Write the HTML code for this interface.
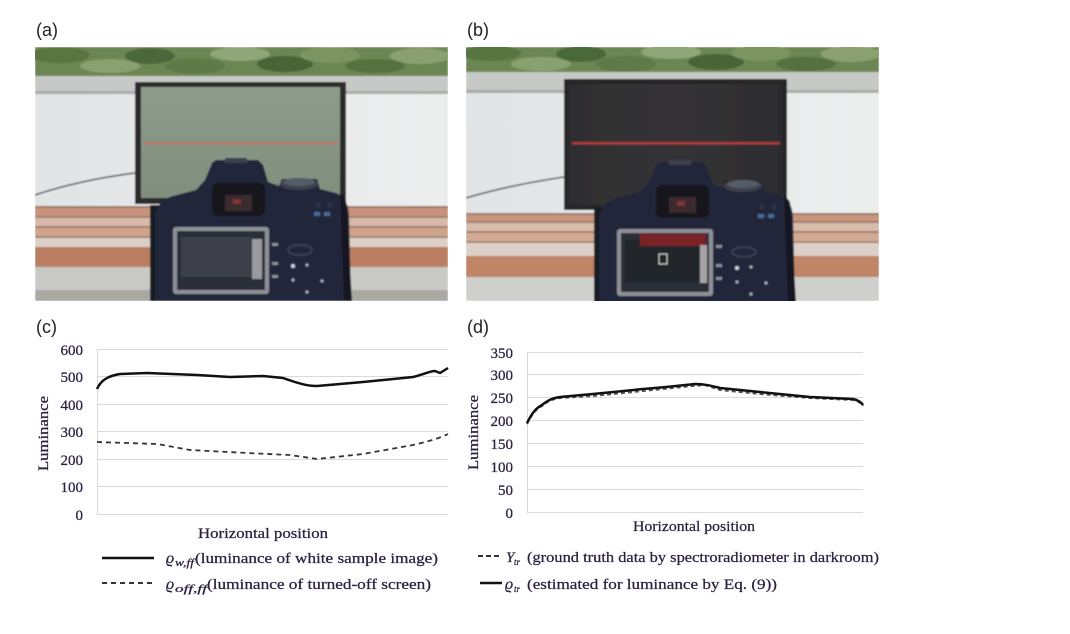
<!DOCTYPE html>
<html><head><meta charset="utf-8"><style>
html,body{margin:0;padding:0;background:#fff;}
svg{display:block;}
text{font-family:"Liberation Serif",serif;fill:#2b2040;stroke:#2b2040;stroke-width:0.25;}
.lab{font-family:"Liberation Sans",sans-serif;fill:#222;stroke:none;font-size:18px;}
</style></head><body>
<svg width="1070" height="634" viewBox="0 0 1070 634" xmlns="http://www.w3.org/2000/svg">
<defs>
<clipPath id="ca"><rect x="35" y="47" width="413" height="254"/></clipPath>
<clipPath id="cb"><rect x="466" y="47" width="413" height="254"/></clipPath>
<filter id="soft" x="0" y="0" width="1" height="1"><feGaussianBlur stdDeviation="0.7"/></filter>
<linearGradient id="wall" x1="0" x2="1" y1="0" y2="0"><stop offset="0" stop-color="#e1e4e5"/><stop offset="1" stop-color="#eceeee"/></linearGradient>
<linearGradient id="scrA" x1="0" x2="0" y1="0" y2="1"><stop offset="0" stop-color="#8d9b8b"/><stop offset="1" stop-color="#7f8e7d"/></linearGradient>
<linearGradient id="scrB" x1="0" x2="1" y1="0" y2="0"><stop offset="0" stop-color="#2e2e31"/><stop offset="0.5" stop-color="#353336"/><stop offset="1" stop-color="#2c2c2f"/></linearGradient>
<g id="cam">
  <rect x="150" y="205" width="14" height="96" fill="#171a24"/>
  <path d="M155,301 L155,215 Q158,200 173,196 L196,190 L205,180 L212,163 L216,160 L258,160 L263,165 L268,182 L279,186 L282,179 L317,179 L320,189 L336,193 Q348,198 349,215 L351,301 Z" fill="#20263a"/>
  <path d="M340,192 L346,200 L352,301 L344,301 Z" fill="#151821"/>
  <rect x="225" y="158" width="22" height="5" fill="#3a3f4d"/>
  <rect x="212" y="183" width="53" height="33" rx="6" fill="#15171d"/>
  <rect x="225" y="195" width="27" height="16" fill="#3b2b2e"/>
  <rect x="233" y="199" width="8" height="5" fill="#7a3535"/>
  <ellipse cx="299" cy="184" rx="19" ry="6" fill="#3d424e"/>
  <ellipse cx="299" cy="182" rx="16" ry="4" fill="#565b66"/>
  <rect x="314" y="212" width="6" height="4" fill="#4a6a9a"/>
  <rect x="324" y="212" width="6" height="4" fill="#4a6a9a"/>
  <circle cx="318" cy="205" r="3" fill="#2d3344"/>
  <circle cx="330" cy="205" r="3" fill="#2d3344"/>
  <circle cx="293" cy="266" r="2" fill="#cfd2d8"/>
  <circle cx="307" cy="265" r="1.5" fill="#aeb2ba"/>
  <circle cx="293" cy="280" r="1.5" fill="#aeb2ba"/>
  <circle cx="307" cy="292" r="1.5" fill="#aeb2ba"/>
  <circle cx="322" cy="281" r="1.5" fill="#aeb2ba"/>
  <rect x="272" y="243" width="6" height="3" fill="#8a8d95"/>
  <rect x="272" y="262" width="6" height="3" fill="#8a8d95"/>
  <rect x="272" y="275" width="6" height="3" fill="#8a8d95"/>
  <ellipse cx="300" cy="250" rx="12" ry="5" fill="none" stroke="#3a4050" stroke-width="2"/>
  <rect x="173" y="227" width="96" height="67" rx="3" fill="#8f9098"/>
  <rect x="177" y="231" width="88" height="59" fill="#2c2f37"/>
</g>
<g id="trees">
  <ellipse cx="60" cy="55" rx="30" ry="8" fill="#587540"/>
  <ellipse cx="110" cy="66" rx="30" ry="7" fill="#8aa070"/>
  <ellipse cx="150" cy="56" rx="25" ry="8" fill="#4c683a"/>
  <ellipse cx="195" cy="66" rx="30" ry="8" fill="#5f7a48"/>
  <ellipse cx="240" cy="54" rx="30" ry="7" fill="#8fa678"/>
  <ellipse cx="285" cy="64" rx="28" ry="8" fill="#4a6538"/>
  <ellipse cx="330" cy="55" rx="30" ry="8" fill="#7b9460"/>
  <ellipse cx="375" cy="66" rx="30" ry="7" fill="#55713f"/>
  <ellipse cx="420" cy="56" rx="30" ry="8" fill="#8aa070"/>
</g>
</defs>

<!-- Photo (a) -->
<g clip-path="url(#ca)" filter="url(#soft)">
  <rect x="35" y="47" width="413" height="254" fill="url(#wall)"/>
  <rect x="35" y="47" width="413" height="30" fill="#6c8652"/>
  <use href="#trees"/>
  <rect x="35" y="76" width="413" height="17" fill="#c7c9c6"/>
  <rect x="35" y="91" width="413" height="3" fill="#a9aba8"/>
  <rect x="35" y="206" width="413" height="2" fill="#9a7a68"/>
  <rect x="35" y="208" width="413" height="8" fill="#c8937a"/>
  <rect x="35" y="216" width="413" height="2" fill="#a08070"/>
  <rect x="35" y="218" width="413" height="8" fill="#d8b8a8"/>
  <rect x="35" y="226" width="413" height="2" fill="#a08070"/>
  <rect x="35" y="228" width="413" height="8" fill="#cfa38c"/>
  <rect x="35" y="236" width="413" height="2" fill="#a08878"/>
  <rect x="35" y="238" width="413" height="9" fill="#dccfc8"/>
  <rect x="35" y="247" width="413" height="20" fill="#bb7e62"/>
  <rect x="35" y="267" width="413" height="34" fill="#c9c9c6"/>
  <rect x="35" y="290" width="413" height="11" fill="#aaa8a3"/>
  <rect x="135" y="82" width="211" height="122" fill="#2a2a2b"/>
  <rect x="141" y="87" width="199" height="111" fill="url(#scrA)"/>
  <rect x="143" y="142" width="195" height="2.5" fill="#b47a68"/>
  <path d="M35,195 Q80,180 135,173" fill="none" stroke="#55585c" stroke-width="1.6"/>
  <use href="#cam"/>
  <rect x="181" y="237" width="70" height="40" fill="#3d4149"/>
  <rect x="252" y="239" width="10" height="40" fill="#9a9aa1"/>
</g>

<!-- Photo (b) -->
<g clip-path="url(#cb)" filter="url(#soft)">
  <rect x="466" y="47" width="413" height="254" fill="url(#wall)"/>
  <rect x="466" y="47" width="413" height="26" fill="#6c8652"/>
  <use href="#trees" transform="translate(431,-2)"/>
  <rect x="466" y="72" width="413" height="20" fill="#c7c9c6"/>
  <rect x="466" y="90" width="413" height="3" fill="#a9aba8"/>
  <rect x="466" y="213" width="413" height="2" fill="#9a7a68"/>
  <rect x="466" y="215" width="413" height="6" fill="#c8957c"/>
  <rect x="466" y="221" width="413" height="2" fill="#a08070"/>
  <rect x="466" y="223" width="413" height="8" fill="#d8bcaa"/>
  <rect x="466" y="231" width="413" height="2" fill="#a08070"/>
  <rect x="466" y="233" width="413" height="8" fill="#d3ab94"/>
  <rect x="466" y="241" width="413" height="2" fill="#a08878"/>
  <rect x="466" y="243" width="413" height="13" fill="#ddd0c8"/>
  <rect x="466" y="256" width="413" height="21" fill="#c08466"/>
  <rect x="466" y="277" width="413" height="24" fill="#cfcfcc"/>
  <rect x="564" y="79" width="223" height="131" fill="#262628"/>
  <rect x="569" y="84" width="213" height="121" fill="url(#scrB)"/>
  <rect x="572" y="142" width="208" height="2.5" fill="#a83a3a"/>
  <path d="M466,198 Q510,185 564,177" fill="none" stroke="#55585c" stroke-width="1.6"/>
  <use href="#cam" transform="translate(444,2)"/>
  <rect x="625" y="240" width="75" height="42" fill="#23252b"/>
  <rect x="640" y="234" width="66" height="12" fill="#7a2226"/>
  <rect x="659" y="254" width="8" height="10" fill="none" stroke="#ccc" stroke-width="1"/>
  <rect x="700" y="245" width="7" height="38" fill="#a8a3a6"/>
</g>

<!-- Panel labels -->
<text class="lab" x="36" y="36">(a)</text>
<text class="lab" x="467" y="36">(b)</text>
<text class="lab" x="36" y="333">(c)</text>
<text class="lab" x="467" y="333">(d)</text>

<!-- Chart (c) -->
<g stroke="#d9d9d9" stroke-width="1">
  <line x1="97" y1="349.5" x2="448" y2="349.5"/>
  <line x1="97" y1="376.5" x2="448" y2="376.5"/>
  <line x1="97" y1="404.5" x2="448" y2="404.5"/>
  <line x1="97" y1="431.5" x2="448" y2="431.5"/>
  <line x1="97" y1="459.5" x2="448" y2="459.5"/>
  <line x1="97" y1="486.5" x2="448" y2="486.5"/>
  <line x1="97" y1="514.5" x2="448" y2="514.5"/>
  <line x1="97.5" y1="349" x2="97.5" y2="515"/>
</g>
<g font-size="15" text-anchor="end">
  <text x="83" y="355">600</text>
  <text x="83" y="382">500</text>
  <text x="83" y="410">400</text>
  <text x="83" y="437">300</text>
  <text x="83" y="465">200</text>
  <text x="83" y="492">100</text>
  <text x="83" y="520">0</text>
</g>
<text font-size="15" transform="translate(48,471) rotate(-90)" textLength="75" lengthAdjust="spacingAndGlyphs">Luminance</text>
<text font-size="15" x="198" y="538" textLength="130" lengthAdjust="spacingAndGlyphs">Horizontal position</text>
<path d="M97,389 C101,380 108,376 120,374 L147,373 L197,375 L230,377 L263,376 L283,378 C295,382 305,386 317,386 L363,382 L413,377 C425,374 430,371 435,371 L440,373 L448,368" fill="none" stroke="#111" stroke-width="2.5"/>
<path d="M97,442 L157,444 L190,450 L247,453 L290,455 L317,459 L363,454 L413,445 C430,441 440,438 448,434" fill="none" stroke="#333" stroke-width="1.8" stroke-dasharray="5,4"/>
<line x1="102" y1="558" x2="154" y2="558" stroke="#111" stroke-width="2.5"/>
<line x1="102" y1="583" x2="154" y2="583" stroke="#333" stroke-width="2" stroke-dasharray="5,4"/>
<text font-size="16" x="166" y="563" font-style="italic">ϱ</text>
<text font-size="11" x="175" y="566" font-style="italic" textLength="19" lengthAdjust="spacingAndGlyphs">w,ff</text>
<text font-size="15" x="195" y="563" textLength="243" lengthAdjust="spacingAndGlyphs">(luminance of white sample image)</text>
<text font-size="16" x="166" y="589" font-style="italic">ϱ</text>
<text font-size="11" x="175" y="592" font-style="italic" textLength="32" lengthAdjust="spacingAndGlyphs">off,ff</text>
<text font-size="15" x="207" y="589" textLength="224" lengthAdjust="spacingAndGlyphs">(luminance of turned-off screen)</text>

<!-- Chart (d) -->
<g stroke="#d9d9d9" stroke-width="1">
  <line x1="527" y1="352.5" x2="863" y2="352.5"/>
  <line x1="527" y1="374.5" x2="863" y2="374.5"/>
  <line x1="527" y1="397.5" x2="863" y2="397.5"/>
  <line x1="527" y1="420.5" x2="863" y2="420.5"/>
  <line x1="527" y1="443.5" x2="863" y2="443.5"/>
  <line x1="527" y1="466.5" x2="863" y2="466.5"/>
  <line x1="527" y1="489.5" x2="863" y2="489.5"/>
  <line x1="527" y1="512.5" x2="863" y2="512.5"/>
  <line x1="527.5" y1="352" x2="527.5" y2="513"/>
</g>
<g font-size="15" text-anchor="end">
  <text x="513" y="358">350</text>
  <text x="513" y="380">300</text>
  <text x="513" y="403">250</text>
  <text x="513" y="426">200</text>
  <text x="513" y="449">150</text>
  <text x="513" y="472">100</text>
  <text x="513" y="495">50</text>
  <text x="513" y="518">0</text>
</g>
<text font-size="15" transform="translate(478,470) rotate(-90)" textLength="75" lengthAdjust="spacingAndGlyphs">Luminance</text>
<text font-size="15" x="633" y="531" textLength="122" lengthAdjust="spacingAndGlyphs">Horizontal position</text>
<path d="M527,423 C532,413 536,408 542,405 C548,400 553,398 560,397 L593,395 L643,390 L693,385 L705,384 L720,389 L760,393 L810,397 L853,399 C858,400 861,402 863,405" fill="none" stroke="#555" stroke-width="2" stroke-dasharray="4,3" transform="translate(0,1)"/>
<path d="M527,423 C532,413 536,408 542,405 C548,400 553,398 560,397 L593,394 L643,389 C670,387 685,385 695,384 C705,384 712,386 720,388 L760,392 L810,397 L853,399 C858,400 861,402 863,405" fill="none" stroke="#111" stroke-width="2.5"/>
<line x1="478" y1="556" x2="502" y2="556" stroke="#333" stroke-width="2" stroke-dasharray="5,3"/>
<line x1="480" y1="583" x2="502" y2="583" stroke="#111" stroke-width="2.5"/>
<text font-size="15" x="506" y="562" font-style="italic">Y</text>
<text font-size="9" x="514" y="565" font-style="italic">tr</text>
<text font-size="15" x="527" y="562" textLength="352" lengthAdjust="spacingAndGlyphs">(ground truth data by spectroradiometer in darkroom)</text>
<text font-size="16" x="505" y="589" font-style="italic">ϱ</text>
<text font-size="9" x="514" y="592" font-style="italic">tr</text>
<text font-size="15" x="527" y="589" textLength="250" lengthAdjust="spacingAndGlyphs">(estimated for luminance by Eq. (9))</text>
</svg>
</body></html>
